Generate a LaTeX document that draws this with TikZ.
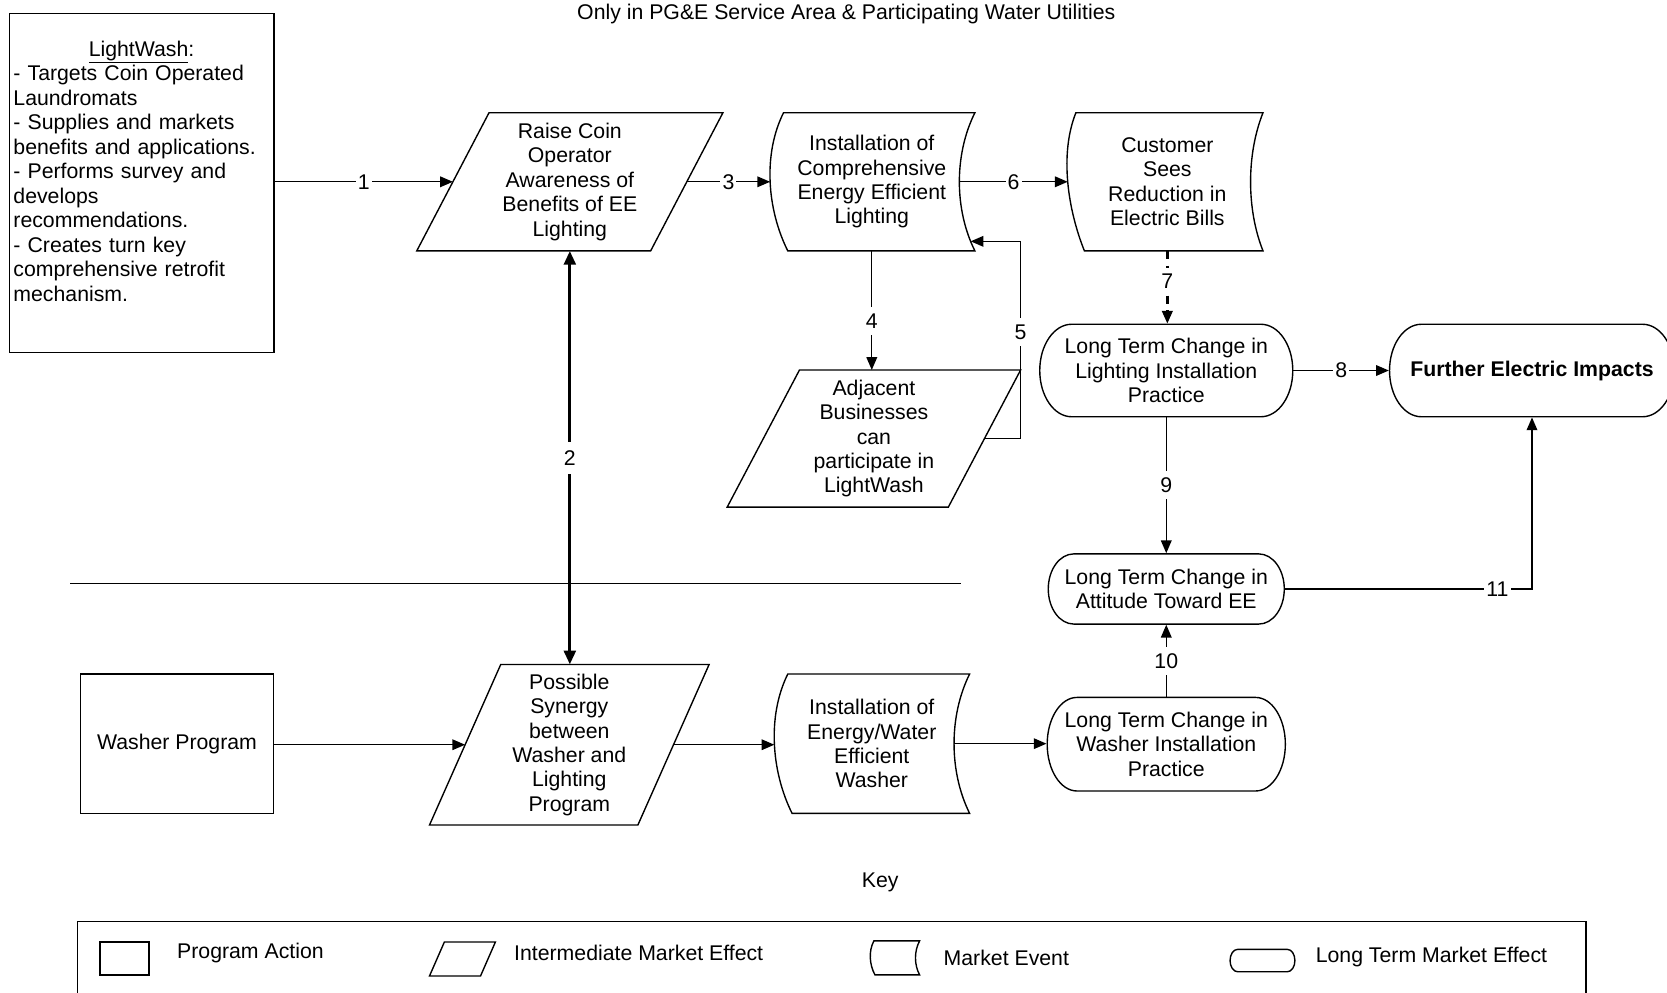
\documentclass[tikz,border=0pt]{standalone}
\usepackage{fontspec}
\setmainfont{Liberation Sans}
\usetikzlibrary{arrows.meta}

% capsule (long term market effect): name, left, top, right, bottom, end width, text
\newcommand\capsule[7]{%
  \pgfmathsetmacro\cpL{#2}%
  \pgfmathsetmacro\cpT{#3}%
  \pgfmathsetmacro\cpR{#4}%
  \pgfmathsetmacro\cpB{#5}%
  \pgfmathsetmacro\cpE{#6}%
  \pgfmathsetmacro\cpM{(#3+#5)/2}%
  \pgfmathsetmacro\cpX{(#2+#4)/2}%
  \pgfmathsetmacro\cpW{#4-#2}%
  \pgfmathsetmacro\cpHt{#5-#3}%
  \pgfmathsetmacro\cpV{0.4477*(#5-#3)/2}%
  \pgfmathsetmacro\cpK{0.4477*#6}%
  \draw[outline] (\cpL+\cpE,\cpT) -- (\cpR-\cpE,\cpT)
     .. controls (\cpR-\cpK,\cpT) and (\cpR,\cpT+\cpV) .. (\cpR,\cpM)
     .. controls (\cpR,\cpB-\cpV) and (\cpR-\cpK,\cpB) .. (\cpR-\cpE,\cpB)
     -- (\cpL+\cpE,\cpB)
     .. controls (\cpL+\cpK,\cpB) and (\cpL,\cpB-\cpV) .. (\cpL,\cpM)
     .. controls (\cpL,\cpT+\cpV) and (\cpL+\cpK,\cpT) .. (\cpL+\cpE,\cpT) -- cycle;
  \node[shapetext, minimum width=\cpW pt, minimum height=\cpHt pt] (#1) at (\cpX,\cpM) {#7};
}

% market event: name, left, right, top, bottom, bulge, bottom inset, text x, text
\newcommand\mevent[9]{%
  \pgfmathsetmacro\meM{(#4+#5)/2}%
  \pgfmathsetmacro\meC{1.3*#6}%
  \pgfmathsetmacro\meH{0.3*(#5-#4)}%
  \draw[outline] (#2,#4) -- (#3,#4)
     .. controls (#3-\meC,#4+\meH) and (#3-\meC,#5-\meH) .. (#3,#5)
     -- (#2+#7,#5)
     .. controls (#2+#7-\meC,#5-\meH) and (#2-\meC,#4+\meH) .. (#2,#4) -- cycle;
  \coordinate (#1-w) at (#2-0.975*#6+0.5*#7,\meM);
  \coordinate (#1-e) at (#3-0.975*#6,\meM);
  \coordinate (#1-n) at (#8,#4);
  \coordinate (#1-s) at (#8,#5);
  \node[shapetext] (#1) at (#8,\meM) {#9};
}

% parallelogram (intermediate market effect): name, top-left x, top-right x, top, bottom-left x, bottom, text
\newcommand\pgram[7]{%
  \pgfmathsetmacro\pgW{#3-#2}%
  \pgfmathsetmacro\pgM{(#4+#6)/2}%
  \pgfmathsetmacro\pgA{(#2+#5)/2}%
  \draw[outline] (#2,#4) -- (#3,#4) -- (#5+\pgW,#6) -- (#5,#6) -- cycle;
  \coordinate (#1-w) at (\pgA,\pgM);
  \coordinate (#1-e) at (\pgA+\pgW,\pgM);
  \coordinate (#1-n) at (\pgA+\pgW/2,#4);
  \coordinate (#1-s) at (\pgA+\pgW/2,#6);
  \node[shapetext] (#1) at (\pgA+\pgW/2,\pgM) {#7};
}

\begin{document}
\begin{tikzpicture}[x=1pt,y=-1pt,
  font=\fontsize{20}{23}\selectfont,
  line width=1.3pt,
  outline/.style={line width=1.3pt},
  shapetext/.style={inner sep=0pt, align=center},
  actionbox/.style={draw, inner sep=0pt, align=center},
  lbl/.style={fill=white, inner xsep=2pt, inner ysep=6pt},
  arr/.style={-{Triangle[length=12pt,width=10pt]}},
  dblarr/.style={{Triangle[length=13pt,width=11pt]}-{Triangle[length=13pt,width=11pt]}, line width=3pt},
  keytext/.style={anchor=west, inner sep=0pt}]

\useasboundingbox (0,0) rectangle (1568,934);

\node (title) at (796,13) {Only in PG\&E Service Area \& Participating Water Utilities};

% program actions
\node[actionbox, anchor=north west, minimum width=249pt, minimum height=319pt] (lightwash) at (8,12) {};
\node[anchor=north west, text width=241pt, align=left, inner sep=0pt] (lwtext) at (12,38)
  {\makebox[241pt]{\underline{LightWash}:}\\
   - Targets Coin Operated\\Laundromats\\
   - Supplies and markets\\benefits and applications.\\
   - Performs survey and\\develops\\recommendations.\\
   - Creates turn key\\comprehensive retrofit\\mechanism.};
\node[actionbox, minimum width=181pt, minimum height=131pt] (washer) at (166.5,699.5) {Washer Program};

% intermediate market effects
\pgram{raise}{460}{680}{106}{392}{236}{Raise Coin\\Operator\\Awareness of\\Benefits of EE\\Lighting}
\pgram{adj}{752}{960}{348}{684}{477}{Adjacent\\Businesses\\can\\participate in\\LightWash}
\pgram{syn}{471}{667}{625}{404}{776}{Possible\\Synergy\\between\\Washer and\\Lighting\\Program}

% market events
\mevent{inst1}{737}{917}{106}{236}{15}{4}{820}{Installation of\\Comprehensive\\Energy Efficient\\Lighting}
\mevent{cust}{1012}{1188}{106}{236}{12}{8}{1098}{Customer\\Sees\\Reduction in\\Electric Bills}
\mevent{inst2}{741}{912}{634}{765}{15}{4}{820}{Installation of\\Energy/Water\\Efficient\\Washer}

% long term market effects
\capsule{ltlight}{978}{305}{1216}{392}{30}{Long Term Change in\\Lighting Installation\\Practice}
\capsule{further}{1307}{305}{1575}{392}{30}{\bfseries Further Electric Impacts}
\capsule{ltatt}{986}{521}{1208}{587}{24}{Long Term Change in\\Attitude Toward EE}
\capsule{ltwash}{985}{656}{1209}{744}{28}{Long Term Change in\\Washer Installation\\Practice}

% separator between the lighting and washer tracks
\draw (66,549) -- (904,549);

% connectors
\coordinate (inst1-in5) at (913,227);
\coordinate (c5) at (960,227);
\draw[arr] (lightwash.east |- raise-w) -- node[lbl]{1} (raise-w);
\draw[dblarr] (raise-s) -- node[lbl, inner ysep=8pt]{2} (raise-s |- syn-n);
\draw[arr] (raise-e) -- node[lbl]{3} (raise-e -| inst1-w);
\draw[arr] (inst1-s) -- node[lbl, pos=0.59]{4} (inst1-s |- adj-n);
\draw[arr] (adj-e) -| node[lbl, pos=0.77]{5} (c5) -- (inst1-in5);
\draw[arr] (inst1-e) -- node[lbl]{6} (inst1-e -| cust-w);
\draw[arr, line width=2.2pt, dash pattern=on 8pt off 6pt] (cust-s) -- node[lbl, pos=0.42]{7} (cust-s |- ltlight.north);
\draw[arr] (ltlight.east) -- node[lbl]{8} (further.west);
\draw[arr] (ltlight.south) -- node[lbl]{9} (ltatt.north);
\draw[arr] (ltwash.north) -- node[lbl]{10} (ltatt.south);
\draw[arr] (ltatt.east) -| node[lbl, pos=0.43]{11} (further.south);
\draw[arr] (washer.east |- syn-w) -- (syn-w);
\draw[arr] (syn-e) -- (syn-e -| inst2-w);
\draw[arr] (inst2-e) -- (inst2-e -| ltwash.west);

% key
\node (keytitle) at (828,830) {Key};
\node[draw, anchor=north west, minimum width=1419pt, minimum height=100pt, inner sep=0pt] (keybox) at (72,866) {};
\node[actionbox, minimum width=46pt, minimum height=31pt] (keyrect) at (117,901.5) {};
\node[keytext] (keyrectlbl) at (166,896) {Program Action};
\pgram{keypg}{418}{466}{886}{404}{918}{}
\node[keytext] (keypglbl) at (483,896) {Intermediate Market Effect};
\mevent{keyme}{822}{865}{885}{917}{4}{1}{843}{}
\node[keytext] (keymelbl) at (887,901) {Market Event};
\capsule{keycap}{1157}{893}{1218}{914}{7}{}
\node[keytext] (keycaplbl) at (1237,900) {Long Term Market Effect};

\end{tikzpicture}
\end{document}
